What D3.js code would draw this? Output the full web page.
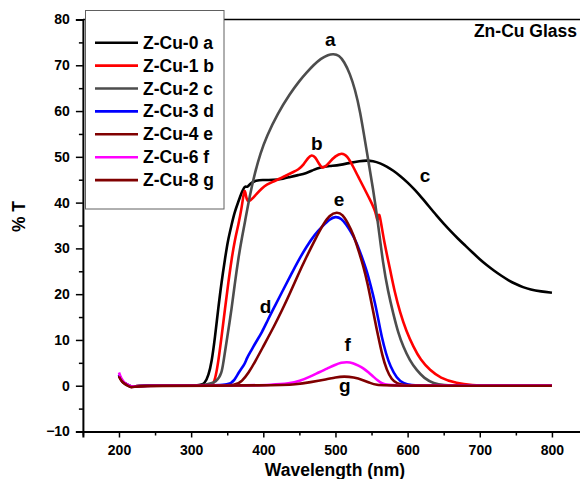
<!DOCTYPE html>
<html>
<head>
<meta charset="utf-8">
<script src="https://cdn.jsdelivr.net/npm/d3@7"></script>
<style>
  html, body { margin: 0; padding: 0; background: #fff; }
  svg { display: block; }
  text { font-family: "Liberation Sans", Arial, sans-serif; font-weight: bold; }
</style>
</head>
<body>
<svg id="chart" width="580" height="479"></svg>
<script>
// ---- data (wavelength nm, %T) ----
const cu0 = [[200,2.3],[203,1.3],[207,0.6],[212,0.2],[217,-0.3],[222,-0.1],[230,0],[280,0],[312,0],[319,0.5],[324,2.2],[328.5,5.2],[333,10.5],[337.6,16.9],[342,22.5],[347,27.8],[351,31.8],[356,35.1],[360,37.8],[365.4,40.2],[370,42.2],[374.6,43.8],[378,43.2],[382,44.3],[390,44.8],[398,45],[414,44.9],[428,45.2],[437,45.6],[448,46],[460,46.4],[470,47.2],[479,47.7],[492,48],[506,48.2],[520,48.7],[534,49.1],[543,49.2],[552,49.1],[562,48.6],[571,47.9],[580,47.0],[590,45.8],[600,44.4],[610,42.8],[620,41.0],[630,39.1],[640,37.2],[650,35.4],[660,33.7],[670,32.1],[680,30.6],[690,29.1],[700,27.6],[710,26.3],[720,25.1],[730,24.0],[740,23.0],[750,22.2],[760,21.5],[770,21.0],[785,20.6],[800,20.3]];
const cu1 = [[200,2.4],[203,1.3],[207,0.6],[212,0.2],[217,-0.3],[222,-0.1],[230,0],[290,0],[326,0.1],[330.7,0.3],[334,2],[337.6,5.2],[342,10.5],[347,16.9],[351.5,22.5],[356.2,27.8],[360.5,31.8],[365.4,35.1],[370,38.8],[373.5,42.8],[375,42.5],[377,40.5],[380,40.2],[385,40.9],[390,41.8],[397.8,43.1],[405,44],[416,44.7],[430,45.8],[441.6,46.7],[448.5,47.2],[456,48.3],[462,49.8],[467,50.5],[472,50],[477,48.5],[481,47.6],[485.5,47.7],[492,48.9],[500,50.2],[508.7,50.9],[516,50.3],[524.8,47.8],[532,45.5],[538.6,43.5],[548,40.6],[556,38],[558.5,35.3],[560,38.2],[563,35.8],[568,31],[575.6,25.5],[582,20.5],[589.5,16],[598,12],[608,8.5],[618,5.6],[631,3.4],[645,1.7],[668,0.5],[690,0.1],[710,0],[800,0]];
const cu2 = [[200,2.4],[203,1.3],[207,0.6],[212,0.2],[217,-0.3],[222,-0.1],[230,0],[300,0],[340,0.2],[344.7,5.2],[350,10.5],[356.2,16.9],[360.5,22.3],[365.4,27.8],[370,32],[374.6,35.8],[381.6,41.8],[388.5,46.6],[396,50.8],[404.7,54.5],[420,59.5],[437,63.8],[450,66.6],[460,68.4],[470,70.1],[480,71.5],[490,72.3],[497,72.5],[505,72.2],[512,70.8],[520,68.2],[527,64.8],[534,60.2],[543,51.5],[552.5,42.7],[559,35.5],[566,26.5],[573,20.5],[580,15.8],[587,11.5],[594,8.5],[603,5.5],[612.5,3.4],[623,1.6],[636,0.5],[650,0.1],[670,0],[800,0]];
const cu3 = [[200,2.4],[203,1.3],[207,0.6],[212,0.2],[217,-0.3],[222,-0.1],[230,0],[320,0],[354,0.15],[360,1.2],[367,3.2],[374,4.6],[377,6],[383,7.6],[390,9.6],[398,11.6],[406,14.3],[416,17.4],[426,20.5],[437,23.8],[448,27.2],[460,30.4],[471,33],[483,35],[492,36.4],[500,37],[508,36.6],[515,35.2],[520,34],[529,31.5],[538,27.5],[543,25.3],[549,21.8],[555,18],[560,14],[564,10.7],[570,7],[576,4.2],[585,1.6],[594,0.5],[605,0.1],[620,0],[800,0]];
const cu4 = [[200,2.2],[203,1.2],[207,0.5],[212,0.1],[217,-0.4],[222,-0.1],[230,0],[330,0],[363,0.1],[370,0.9],[380,2.9],[388.5,5.2],[400,8.6],[416,13.3],[426,16.5],[437,20.2],[448,24.2],[460,28.2],[472,32],[483,35.3],[492,37.3],[502,38],[510,37.4],[517,35.6],[525,33],[532,29.5],[539,26],[545,22],[550,18],[555,14],[559.4,10.7],[565,6.5],[571,3.4],[578,1.3],[585,0.5],[595,0.1],[610,0],[800,0]];
const cu6 = [[200,2.9],[203,1.6],[207,0.7],[212,0.2],[217,-0.2],[222,-0.1],[230,0],[380,0.05],[410,0.2],[437,0.5],[450,1.0],[465,2.0],[478,3.0],[488,3.7],[500,4.6],[508,5.05],[516,5.2],[524,5.0],[532,4.4],[539,3.8],[546,2.9],[553,1.9],[559,1.1],[564,0.5],[572,0.15],[590,0.05],[800,0.05]];
const cu8 = [[200,2.0],[203,1.1],[207,0.5],[212,0.0],[217,-0.4],[222,-0.2],[230,0],[420,0.05],[445,0.3],[465,0.75],[488,1.4],[500,1.85],[512,2.05],[525,1.85],[539,1.2],[548,0.6],[557,0.15],[570,0],[800,0]];

const seriesNames  = ["Z-Cu-0 a","Z-Cu-1 b","Z-Cu-2 c","Z-Cu-3 d","Z-Cu-4 e","Z-Cu-6 f","Z-Cu-8 g"];
const seriesColors = ["#000000","#ff0000","#4d4d4d","#0000ff","#800000","#ff00ff","#800000"];
const seriesData   = [cu0, cu1, cu2, cu3, cu4, cu6, cu8];

const xTicks = [200,300,400,500,600,700,800];
const yTicks = [-10,0,10,20,30,40,50,60,70,80];

// curve labels: [letter, wavelength, %T]
const curveLabels = [["a",493,74.3],["b",474,51.5],["c",624,44.5],["d",403,15.8],["e",505,39.3],["f",517,7.5],["g",513,-1.3]];

// ---- drawing ----
const svg = d3.select("#chart");
const x = d3.scaleLinear().domain([150, 840]).range([82.9, 580.8]);
const y = d3.scaleLinear().domain([-10, 80]).range([431.5, 19.5]);

// top frame line
svg.append("line").attr("x1", x(150)).attr("x2", 580).attr("y1", y(80)).attr("y2", y(80))
  .attr("stroke", "#000").attr("stroke-width", 1.5);

const line = d3.line().x(d => x(d[0])).y(d => y(d[1])).curve(d3.curveBasis);
seriesData.forEach((s, i) => {
  svg.append("path").datum(s).attr("d", line)
    .attr("fill", "none").attr("stroke", seriesColors[i])
    .attr("stroke-width", 2.6).attr("stroke-linejoin", "round");
});

// axes
const xMinor = d3.range(150, 841, 50).filter(v => v % 100 !== 0);
const yMinor = d3.range(-5, 80, 10);
const gx = svg.append("g").attr("transform", `translate(0,${y(-10)})`);
gx.call(d3.axisBottom(x).tickValues(xTicks).tickSize(6).tickFormat(d3.format("d")).tickPadding(8));
const gxm = svg.append("g").attr("transform", `translate(0,${y(-10)})`);
gxm.call(d3.axisBottom(x).tickValues(xMinor).tickSize(4).tickFormat(""));
const gy = svg.append("g").attr("transform", `translate(${x(150)},0)`);
gy.call(d3.axisLeft(y).tickValues(yTicks).tickSize(7).tickFormat(d3.format("d")).tickPadding(6));
const gym = svg.append("g").attr("transform", `translate(${x(150)},0)`);
gym.call(d3.axisLeft(y).tickValues(yMinor).tickSize(4).tickFormat(""));

[gx, gxm, gy, gym].forEach(g => {
  g.select(".domain").attr("stroke", "#000").attr("stroke-width", 2);
  g.selectAll(".tick line").attr("stroke", "#000").attr("stroke-width", 1.5);
  g.selectAll(".tick text").attr("fill", "#000")
    .style("font-size", "14px").style("font-family", "'Liberation Sans', Arial, sans-serif").style("font-weight", "bold");
});
gxm.select(".domain").remove();
gym.select(".domain").remove();

// axis titles
svg.append("text").attr("x", 335).attr("y", 476).attr("text-anchor", "middle")
  .style("font-size", "17.5px").text("Wavelength (nm)");
svg.append("text").attr("transform", "translate(25,216.5) rotate(-90)").attr("text-anchor", "middle")
  .style("font-size", "17.5px").text("% T");

// title text
svg.append("text").attr("x", 577).attr("y", 37).attr("text-anchor", "end")
  .style("font-size", "17.5px").text("Zn-Cu Glass");

// curve labels
curveLabels.forEach(l => {
  svg.append("text").attr("x", x(l[1])).attr("y", y(l[2])).attr("text-anchor", "middle")
    .style("font-size", "19px").text(l[0]);
});

// legend
const lg = svg.append("g");
lg.append("rect").attr("x", 85.5).attr("y", 10.5).attr("width", 138.5).attr("height", 198.5)
  .attr("fill", "#fff").attr("stroke", "#606060").attr("stroke-width", 1);
seriesNames.forEach((n, i) => {
  const cy = 42.7 + i * 22.9;
  lg.append("line").attr("x1", 95).attr("x2", 138).attr("y1", cy).attr("y2", cy)
    .attr("stroke", seriesColors[i]).attr("stroke-width", 2.6);
  lg.append("text").attr("x", 143).attr("y", cy + 6).style("font-size", "17.5px").text(n);
});
</script>
</body>
</html>
